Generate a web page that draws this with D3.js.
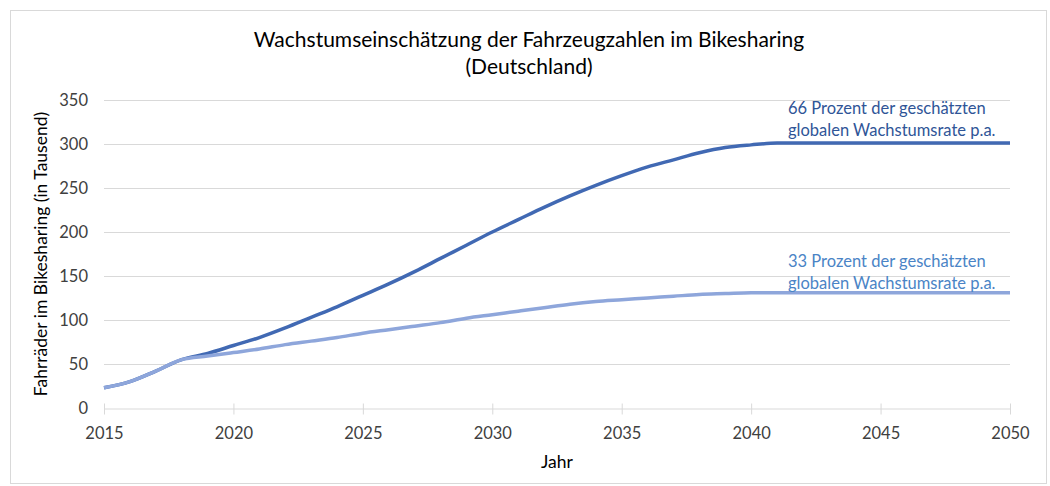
<!DOCTYPE html>
<html>
<head>
<meta charset="utf-8">
<script src="https://cdn.jsdelivr.net/npm/d3@7"></script>
<style>
  body { margin: 0; background: #fff; }
  svg text { font-family: Lato, "Open Sans", sans-serif; }
</style>
</head>
<body>
<div id="chart"></div>
<script>
// years and the two scenarios (values in thousands)
var years = d3.range(2015, 2051);
var high = [23, 30, 42, 55, 62, 71, 80, 91, 103, 115, 128, 141, 155, 170, 185, 200, 214, 228, 241, 253,
            264, 274, 282, 290, 296, 299, 301, 301, 301, 301, 301, 301, 301, 301, 301, 301];
var low = [23, 30, 42, 55, 59, 63, 67, 72, 76, 80, 85, 89, 93, 97, 102, 106, 110, 114, 118, 121,
           123, 125, 127, 129, 130, 131, 131, 131, 131, 131, 131, 131, 131, 131, 131, 131];
var yTicks = [0, 50, 100, 150, 200, 250, 300, 350];
var xTicks = [2015, 2020, 2025, 2030, 2035, 2040, 2045, 2050];
var titleLines = ["Wachstumseinschätzung der Fahrzeugzahlen im Bikesharing", "(Deutschland)"];
var highLabel = ["66 Prozent der geschätzten", "globalen Wachstumsrate p.a."];
var lowLabel = ["33 Prozent der geschätzten", "globalen Wachstumsrate p.a."];

var W = 1050, H = 486;
var margin = {top: 100, right: 40, bottom: 78, left: 104};
var width = 1010 - margin.left, height = 408 - margin.top;

var svg = d3.select("#chart").append("svg")
    .attr("width", W)
    .attr("height", H);

// outer frame
svg.append("rect")
    .attr("x", 10.5).attr("y", 10.5)
    .attr("width", 1036).attr("height", 473)
    .attr("fill", "none")
    .attr("stroke", "#d9d9d9");

var g = svg.append("g")
    .attr("transform", "translate(" + margin.left + "," + margin.top + ")");

var x = d3.scaleLinear().domain([2015, 2050]).range([0, width]);
var y = d3.scaleLinear().domain([0, 350]).range([height, 0]);

// gridlines
g.selectAll(".grid").data(yTicks.slice(1)).enter().append("line")
    .attr("class", "grid")
    .attr("x1", 0).attr("x2", width)
    .attr("y1", function(d) { return Math.round(y(d)) + 0.5; })
    .attr("y2", function(d) { return Math.round(y(d)) + 0.5; })
    .attr("stroke", "#d9d9d9");

// y axis labels
g.selectAll(".ylab").data(yTicks).enter().append("text")
    .attr("class", "ylab")
    .attr("x", -16)
    .attr("y", function(d) { return y(d); })
    .attr("dy", "0.35em")
    .attr("text-anchor", "end")
    .attr("font-size", 16.5)
    .attr("fill", "#404040")
    .text(function(d) { return d; });

// x axis
var xAxis = g.append("g")
    .attr("transform", "translate(0," + (height + 0.5) + ")")
    .call(d3.axisBottom(x).tickValues(xTicks).tickFormat(d3.format("d")).tickSizeInner(6).tickSizeOuter(0).tickPadding(13));
xAxis.select(".domain").attr("stroke", "#d9d9d9");
xAxis.selectAll(".tick line").attr("stroke", "#d9d9d9").attr("y1", -5);
xAxis.selectAll(".tick text")
    .attr("font-family", "Lato, sans-serif")
    .attr("font-size", 16.5)
    .attr("fill", "#404040");

// lines
var line = d3.line()
    .x(function(d, i) { return x(years[i]); })
    .y(function(d) { return y(d); })
    .curve(d3.curveMonotoneX);

g.append("path").datum(high)
    .attr("d", line)
    .attr("fill", "none")
    .attr("stroke", "#4169B3")
    .attr("stroke-width", 3.5);

g.append("path").datum(low)
    .attr("d", line)
    .attr("fill", "none")
    .attr("stroke", "#8EA6DB")
    .attr("stroke-width", 3.5);

// annotations
function label(lines, yy, color) {
    svg.append("text")
        .attr("x", 788).attr("y", yy)
        .attr("font-size", 16.5)
        .attr("fill", color)
        .selectAll("tspan").data(lines).enter().append("tspan")
        .attr("x", 788)
        .attr("dy", function(d, i) { return i ? 22 : 0; })
        .text(function(d) { return d; });
}
label(highLabel, 114, "#2F5597");
label(lowLabel, 267, "#4A84C6");

// title
svg.append("text")
    .attr("x", 529).attr("y", 47)
    .attr("text-anchor", "middle")
    .attr("font-size", 21)
    .attr("fill", "#000")
    .selectAll("tspan").data(titleLines).enter().append("tspan")
    .attr("x", 529)
    .attr("dy", function(d, i) { return i ? 27 : 0; })
    .text(function(d) { return d; });

// axis titles
svg.append("text")
    .attr("transform", "translate(47," + (margin.top + height / 2) + ") rotate(-90)")
    .attr("text-anchor", "middle")
    .attr("font-size", 17.5)
    .attr("fill", "#000")
    .text("Fahrräder im Bikesharing (in Tausend)");

svg.append("text")
    .attr("x", margin.left + width / 2).attr("y", 468)
    .attr("text-anchor", "middle")
    .attr("font-size", 17.5)
    .attr("fill", "#000")
    .text("Jahr");
</script>
</body>
</html>
